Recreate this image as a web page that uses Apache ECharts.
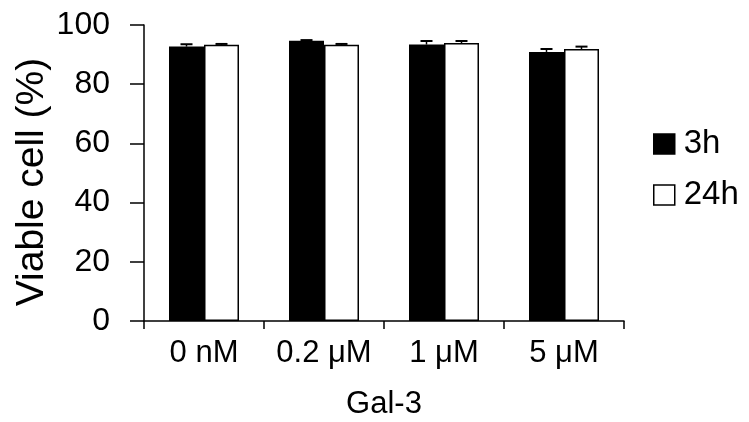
<!DOCTYPE html>
<html>
<head>
<meta charset="utf-8">
<script src="https://cdn.jsdelivr.net/npm/echarts@6/dist/echarts.min.js"></script>
<style>
  html, body { margin: 0; padding: 0; background: #fff; }
  #chart { width: 749px; height: 422px; }
</style>
</head>
<body>
<div id="chart"></div>
<script>
var categories = ["0 nM", "0.2 \u03bcM", "1 \u03bcM", "5 \u03bcM"];
var values3h = [92.7, 94.7, 93.4, 90.9];
var values24h = [93.3, 93.3, 93.9, 91.9];
var err3h = [0.8, 0.2, 1.2, 1.0];
var err24h = [0.3, 0.3, 0.7, 0.8];
var yTicks = [0, 20, 40, 60, 80, 100];

var font = "Liberation Sans, Arial, sans-serif";

// error bar drawn on top of each bar, shifted by half a bar width
function errorSeries(name, vals, errs, shift) {
    return {
        type: "custom",
        name: name + "_err",
        z: 5,
        data: vals.map(function (v, i) { return [i, v, v + errs[i]]; }),
        renderItem: function (params, api) {
            var lo = api.coord([api.value(0), api.value(1)]);
            var hi = api.coord([api.value(0), api.value(2)]);
            var x = lo[0] + shift;
            return {
                type: "group",
                children: [
                    { type: "line", shape: { x1: x, y1: lo[1], x2: x, y2: hi[1] }, style: { stroke: "#000", lineWidth: 1.5 } },
                    { type: "line", shape: { x1: x - 6, y1: hi[1], x2: x + 6, y2: hi[1] }, style: { stroke: "#000", lineWidth: 2 } }
                ]
            };
        }
    };
}

var chart = echarts.init(document.getElementById("chart"));
chart.setOption({
    animation: false,
    backgroundColor: "#fff",
    grid: { left: 144, right: 125, top: 25, bottom: 101, containLabel: false, outerBoundsMode: "none" },
    legend: {
        orient: "vertical",
        left: 648,
        top: 122,
        icon: "rect",
        itemWidth: 21,
        itemHeight: 20,
        itemGap: 17,
        data: ["3h", "24h"],
        itemStyle: { borderColor: "#000", borderWidth: 1.5 },
        textStyle: { fontFamily: font, fontSize: 33, lineHeight: 34, color: "#000", padding: [0, 0, 0, 4] }
    },
    xAxis: {
        type: "category",
        data: categories,
        name: "Gal-3",
        nameLocation: "middle",
        nameGap: 68,
        nameMoveOverlap: false,
        nameTextStyle: { fontFamily: font, fontSize: 31, color: "#000" },
        axisLine: { lineStyle: { color: "#000", width: 1.5 } },
        axisTick: { show: true, length: 8, lineStyle: { color: "#000", width: 1.5 } },
        axisLabel: { interval: 0, fontFamily: font, fontSize: 31, color: "#000", margin: 17 }
    },
    yAxis: {
        type: "value",
        min: 0,
        max: 100,
        interval: 20,
        name: "Viable cell (%)",
        nameLocation: "middle",
        nameGap: 92,
        nameMoveOverlap: false,
        nameTextStyle: { fontFamily: font, fontSize: 39, color: "#000", padding: [0, 18, 0, 0] },
        splitLine: { show: false },
        axisLine: { show: true, lineStyle: { color: "#000", width: 1.5 } },
        axisTick: { show: true, length: 14, lineStyle: { color: "#000", width: 1.5 } },
        axisLabel: {
            fontFamily: font, fontSize: 32, color: "#000", margin: 34,
            formatter: function (v) { return yTicks.indexOf(v) > -1 ? String(v) : ""; }
        }
    },
    series: [
        {
            name: "3h",
            type: "bar",
            barWidth: 35,
            barGap: "0%",
            data: values3h,
            itemStyle: { color: "#000", borderColor: "#000", borderWidth: 1.5 }
        },
        {
            name: "24h",
            type: "bar",
            barWidth: 35,
            data: values24h,
            itemStyle: { color: "#fff", borderColor: "#000", borderWidth: 1.5 }
        },
        errorSeries("3h", values3h, err3h, -17.5),
        errorSeries("24h", values24h, err24h, 17.5)
    ]
});
</script>
</body>
</html>
